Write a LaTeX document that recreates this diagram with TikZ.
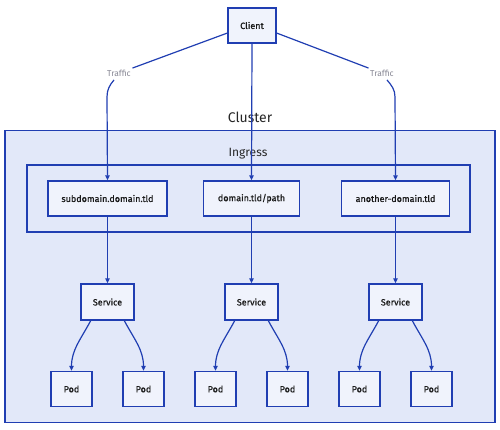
\documentclass[tikz,border=0pt]{standalone}
\usepackage{fontspec}
\setmainfont{Fira Sans}
\newfontfamily\boxfont[FakeBold=0.6]{Fira Sans}
\usetikzlibrary{arrows.meta,calc}
\definecolor{linec}{RGB}{32,62,178}
\definecolor{clfill}{RGB}{226,232,249}
\definecolor{bxfill}{RGB}{240,243,252}
\definecolor{trgray}{RGB}{135,135,148}
\tikzset{
  box/.style={draw=linec, line width=1.4pt, fill=bxfill, inner sep=0pt, font=\boxfont\fontsize{9}{10}\selectfont, text=black!90},
  grp/.style={draw=linec, line width=1.4pt, fill=clfill, inner sep=0pt},
  conn/.style={draw=linec, line width=1.2pt},
  arr/.style={conn, -{Triangle[length=5pt,width=4.5pt]}},
  trlbl/.style={text=trgray, font=\fontsize{8.5}{9}\selectfont, inner sep=1.5pt},
  grplbl/.style={font=\fontsize{14}{16}\selectfont, inner sep=0pt, text=black!85},
}
\begin{document}
\begin{tikzpicture}[x=1pt,y=-1pt]
\useasboundingbox (0,0) rectangle (500,429);
% groups
\node[grp, minimum width=490pt, minimum height=292pt] (cluster) at (250,276.5) {};
\node[grplbl] (clusterlbl) at (250,117) {Cluster};
\node[grp, minimum width=443pt, minimum height=67pt] (ingress) at (248.5,198.5) {};
\node[grplbl, font=\fontsize{12}{14}\selectfont] (ingresslbl) at (248,154) {Ingress};
% client
\node[box, minimum width=48pt, minimum height=35pt] (client) at (252,25.5) {Client};
% ingress rules
\node[box, minimum width=119pt, minimum height=35pt] (sub) at (107.5,198.5) {subdomain.domain.tld};
\node[box, minimum width=96pt, minimum height=35pt] (path) at (251.5,198.5) {domain.tld/path};
\node[box, minimum width=108pt, minimum height=35pt] (another) at (395.5,198.5) {another-domain.tld};
% services
\node[box, minimum width=53pt, minimum height=36pt] (svc1) at (107.5,302) {Service};
\node[box, minimum width=53pt, minimum height=36pt] (svc2) at (251.5,302) {Service};
\node[box, minimum width=53pt, minimum height=36pt] (svc3) at (395.5,302) {Service};
% pods
\foreach \i/\x in {1/71.5,2/143.5,3/215.5,4/287.5,5/359.5,6/431.5}{
  \node[box, minimum width=41pt, minimum height=35pt] (pod\i) at (\x,389) {Pod};
}
% traffic labels
\node[trlbl] (tl) at (119,73) {Traffic};
\node[trlbl] (tr) at (382,73) {Traffic};
\coordinate (lbend) at (107,97);
\coordinate (rbend) at (395,97);
% client connectors
\draw[conn] (client.197) -- (tl.north east);
\draw[arr] (tl.south) ++(-5,2) to[out=-130,in=90] (lbend) -- (sub.north);
\draw[arr] (client.south) -- (path.north);
\draw[conn] (client.343) -- (tr.north west);
\draw[arr] (tr.south) ++(5,2) to[out=-50,in=90] (rbend) -- (another.north);
% ingress -> services
\draw[arr] (sub.south) -- (svc1.north);
\draw[arr] (path.south) -- (svc2.north);
\draw[arr] (another.south) -- (svc3.north);
% services -> pods
\draw[arr] (svc1.228) to[out=-118,in=90] (pod1.north);
\draw[arr] (svc1.312) to[out=-62,in=90] (pod2.north);
\draw[arr] (svc2.228) to[out=-118,in=90] (pod3.north);
\draw[arr] (svc2.312) to[out=-62,in=90] (pod4.north);
\draw[arr] (svc3.228) to[out=-118,in=90] (pod5.north);
\draw[arr] (svc3.312) to[out=-62,in=90] (pod6.north);
\end{tikzpicture}
\end{document}
